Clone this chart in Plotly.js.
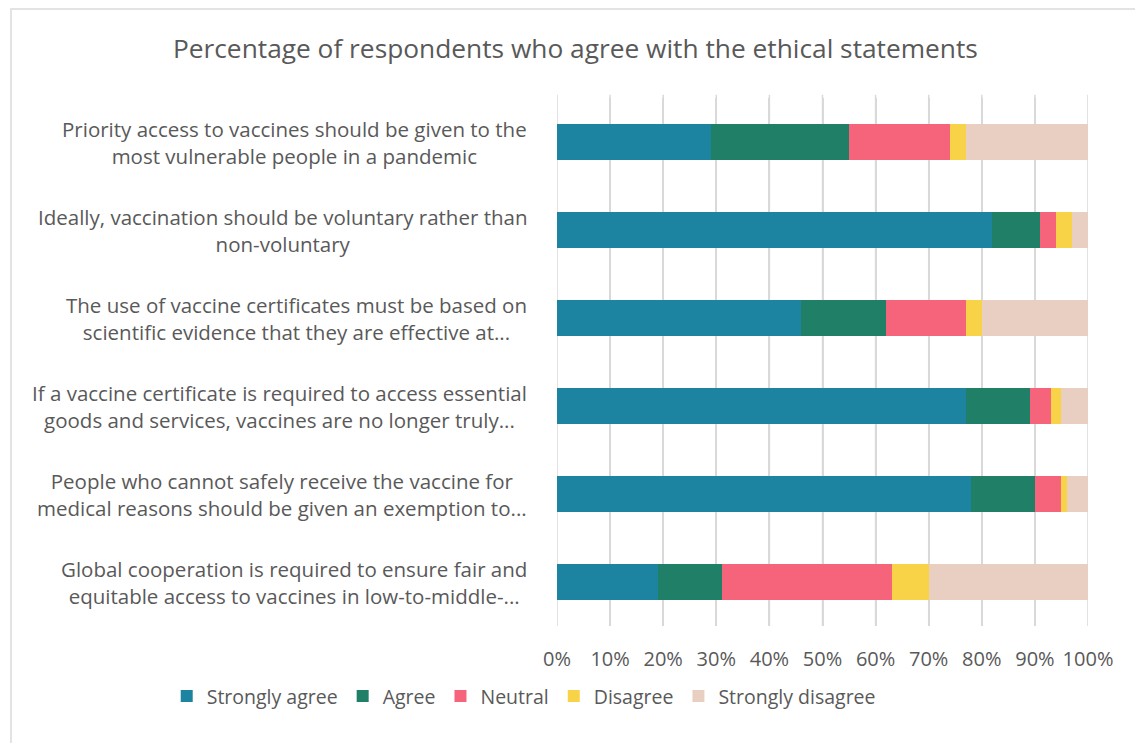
<!DOCTYPE html>
<html>
<head>
<meta charset="utf-8">
<script src="https://cdn.plot.ly/plotly-3.0.1.min.js"></script>
<style>
  html, body { margin: 0; padding: 0; background: #ffffff; }
  #wrap { position: relative; width: 1135px; height: 743px; overflow: hidden; }
  #frame { position: absolute; left: 10px; top: 8px; width: 1140px; height: 760px;
           border-left: 2px solid #e3e3e3; border-top: 2px solid #e3e3e3; box-sizing: border-box; pointer-events: none; }
  #chart { position: absolute; left: 0; top: 0; width: 1135px; height: 743px; }
</style>
</head>
<body>
<div id="wrap">
  <div id="chart"></div>
  <div id="frame"></div>
</div>
<script>
const categories = [
  "Priority access to vaccines should be given to the<br>most vulnerable people in a pandemic",
  "Ideally, vaccination should be voluntary rather than<br>non-voluntary",
  "The use of vaccine certificates must be based on<br>scientific evidence that they are effective at...",
  "If a vaccine certificate is required to access essential<br>goods and services, vaccines are no longer truly...",
  "People who cannot safely receive the vaccine for<br>medical reasons should be given an exemption to...",
  "Global cooperation is required to ensure fair and<br>equitable access to vaccines in low-to-middle-..."
];
const seriesNames = ["Strongly agree", "Agree", "Neutral", "Disagree", "Strongly disagree"];
const stronglyAgree    = [29, 82, 46, 77, 78, 19];
const agree            = [26,  9, 16, 12, 12, 12];
const neutral          = [19,  3, 15,  4,  5, 32];
const disagree         = [ 3,  3,  3,  2,  1,  7];
const stronglyDisagree = [23,  3, 20,  5,  4, 30];
const tickValues = [0, 10, 20, 30, 40, 50, 60, 70, 80, 90, 100];
const tickLabels = ["0%", "10%", "20%", "30%", "40%", "50%", "60%", "70%", "80%", "90%", "100%"];

const colors = ["#1c84a0", "#1f7f67", "#f5647a", "#f8d347", "#e9cfc1"];
const allSeries = [stronglyAgree, agree, neutral, disagree, stronglyDisagree];

const FONT = "'Open Sans', 'Noto Sans', sans-serif";
const GREY = "#595959";

const traces = allSeries.map((vals, i) => ({
  type: "bar",
  orientation: "h",
  name: seriesNames[i],
  x: vals,
  y: categories,
  marker: { color: colors[i], line: { width: 0 } },
  hoverinfo: "x+name"
}));

const annotations = categories.map(c => ({
  text: c,
  xref: "paper",
  yref: "y",
  x: -0.052,
  y: c,
  xanchor: "right",
  yanchor: "middle",
  align: "center",
  showarrow: false,
  font: { family: FONT, size: 20.5, color: GREY }
}));

const layout = {
  width: 1135,
  height: 743,
  margin: { l: 557, r: 47, t: 98, b: 117, pad: 0 },
  paper_bgcolor: "#ffffff",
  plot_bgcolor: "#ffffff",
  barmode: "stack",
  bargap: 0.6,
  title: {
    text: "Percentage of respondents who agree with the ethical statements",
    font: { family: FONT, size: 26.3, color: GREY },
    x: 0.507,
    xanchor: "center",
    y: 0.935,
    yanchor: "middle"
  },
  xaxis: {
    range: [0, 100],
    tickvals: tickValues,
    ticktext: tickLabels,
    showgrid: true,
    gridcolor: "#d9d9d9",
    gridwidth: 1.5,
    zeroline: false,
    showline: false,
    ticks: "outside",
    ticklen: 15,
    tickcolor: "rgba(0,0,0,0)",
    tickfont: { family: FONT, size: 20, color: GREY },
    fixedrange: true
  },
  yaxis: {
    type: "category",
    autorange: "reversed",
    showticklabels: false,
    showgrid: false,
    zeroline: false,
    showline: false,
    ticks: "",
    fixedrange: true
  },
  shapes: tickValues.map(v => ({
    type: "line", xref: "x", yref: "paper", x0: v, x1: v, y0: 0, y1: 1.006,
    line: { color: "#d9d9d9", width: 1.5 }, layer: "below"
  })),
  showlegend: true,
  legend: {
    orientation: "h",
    x: -0.735,
    xanchor: "left",
    y: -0.133,
    yanchor: "middle",
    font: { family: FONT, size: 19.5, color: GREY },
    traceorder: "normal",
    itemwidth: 30,
    bgcolor: "rgba(0,0,0,0)"
  },
  annotations: annotations
};

Plotly.newPlot("chart", traces, layout, { displayModeBar: false, responsive: false });
</script>
</body>
</html>
